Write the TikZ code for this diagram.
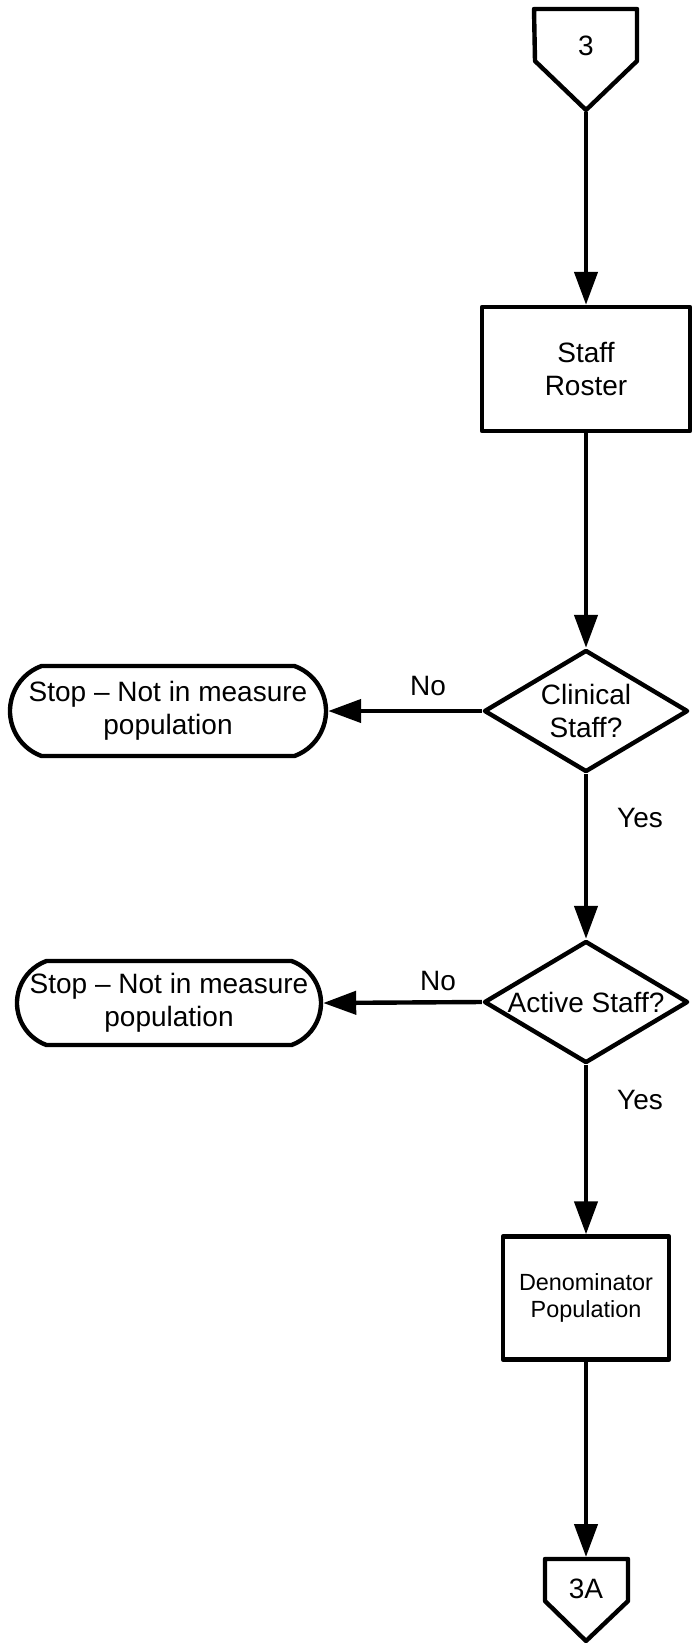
\documentclass[tikz,border=0pt]{standalone}
\usepackage{fontspec}
\setmainfont{Liberation Sans}
\usetikzlibrary{arrows.meta,shapes.geometric,shapes.misc}

\begin{document}
\begin{tikzpicture}[x=0.5pt,y=-0.5pt,line width=2.2pt,line join=round,
  font=\fontsize{14}{16.5}\selectfont,
  flow/.style={-{Triangle[length=16.5pt,width=11.5pt]}},
  procbox/.style={draw,rectangle,align=center,inner sep=0pt},
  decision/.style={draw,diamond,aspect=1.67,align=center,inner sep=0pt,
    minimum width=102pt,minimum height=61pt},
  stopbox/.style={draw,rounded rectangle,rounded rectangle arc length=140,inner sep=0pt}]
\useasboundingbox (0,0) rectangle (691,1643);

% connector 3
\draw (534,9) -- (637,9) -- (637,61) -- (586,110) -- (535,61) -- cycle;
\node (con3) at (586,46) {3};
\coordinate (con3tip) at (586,112);

\node[procbox,minimum width=104pt,minimum height=62pt] (roster) at (586,369) {Staff\\Roster};
\node[decision] (clin) at (586,711) {Clinical\\Staff?};
\node[stopbox,minimum width=158pt,minimum height=45pt] (stop1) at (168,711) {};
\node[align=center] (stop1txt) at (stop1.center) {Stop – Not in measure\\population};
\node[decision] (act) at (586,1002) {Active Staff?};
\node[stopbox,minimum width=152pt,minimum height=42pt] (stop2) at (169,1003) {};
\node[align=center] (stop2txt) at (stop2.center) {Stop – Not in measure\\population};
\node[procbox,minimum width=83pt,minimum height=61.5pt,font=\fontsize{11.7}{13.5}\selectfont] (denom) at (586,1298) {Denominator\\Population};

% connector 3A
\draw (545,1559) -- (628,1559) -- (628,1601) -- (586,1641) -- (545,1601) -- cycle;
\node (con3a) at (586,1589) {3A};
\coordinate (con3atop) at (586,1557);

\draw[flow] (con3tip) -- (roster.north);
\draw[flow] (roster.south) -- (clin.north);
\draw[flow] (clin.west) -- (stop1.east);
\draw[flow] (clin.south) -- (act.north);
\draw[flow] (act.west) -- (stop2.east);
\draw[flow] (act.south) -- (denom.north);
\draw[flow] (denom.south) -- (con3atop);

\node (no1) at (428,686) {No};
\node (yes1) at (640,818) {Yes};
\node (no2) at (438,981) {No};
\node (yes2) at (640,1100) {Yes};
\end{tikzpicture}
\end{document}
